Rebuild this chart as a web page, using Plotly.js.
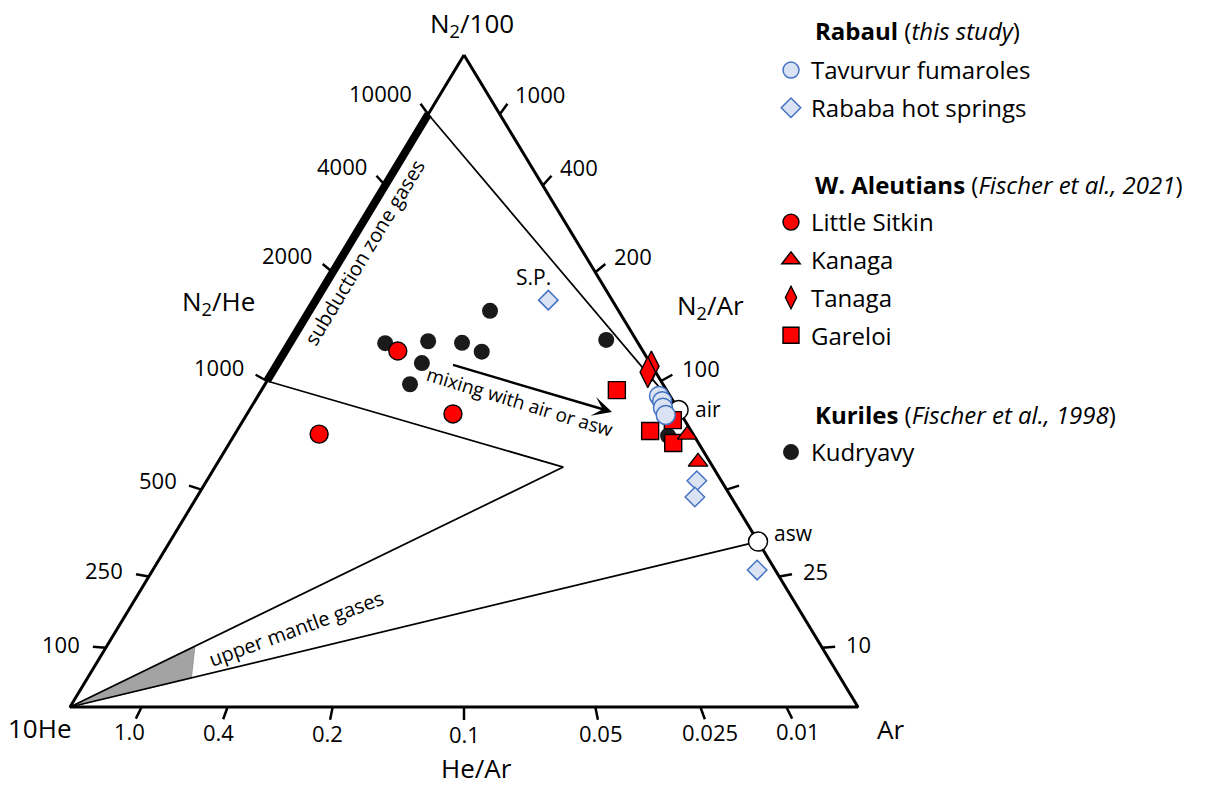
<!DOCTYPE html>
<html>
<head>
<meta charset="utf-8">
<script src="https://cdn.plot.ly/plotly-3.0.1.min.js"></script>
<style>html,body{margin:0;padding:0;background:#fff;}</style>
</head>
<body>
<div id="chart" style="width:1206px;height:785px;"></div>
<script>
// ================= DATA (ternary %: N2/100, 10He, Ar) =================
const tavurvurN2 = [47.7, 46.9, 45.9, 44.8];
const tavurvurHe = [1.4, 1.4, 1.8, 2.0];
const tavurvurAr = [50.9, 51.7, 52.3, 53.2];

const rababaN2 = [62.4, 34.7, 32.2, 21.0];
const rababaHe = [8.1, 3.1, 4.6, 2.3];
const rababaAr = [29.5, 62.2, 63.2, 76.7];

const littleSitkinN2 = [54.6, 44.9, 41.9];
const littleSitkinHe = [31.1, 28.9, 47.5];
const littleSitkinAr = [14.3, 26.1, 10.7];

const kanagaN2 = [41.7, 37.6];
const kanagaHe = [0.8, 1.5];
const kanagaAr = [57.4, 60.9];

const tanagaN2 = [52.3, 51.4];
const tanagaHe = [0.1, 1.0];
const tanagaAr = [47.7, 47.7];

const gareloiN2 = [48.6, 42.3, 44.0, 40.5];
const gareloiHe = [6.3, 5.2, 1.5, 3.2];
const gareloiAr = [45.1, 52.4, 54.5, 56.3];

const kudryavyN2 = [55.8, 56.1, 55.8, 54.5, 52.8, 49.5, 60.7, 56.3, 41.6];
const kudryavyHe = [32.1, 26.5, 22.3, 20.5, 29.0, 32.1, 16.3, 3.8, 3.3];
const kudryavyAr = [12.1, 17.4, 21.8, 25.0, 18.3, 18.4, 22.9, 39.9, 55.1];

// reference end-members (N2/Ar ratios)
const refNames = ['air', 'asw'];
const refN2Ar = [83.6, 34];

// field boundaries
const subductionN2He = [1000, 10000];          // thick bar on the N2/He edge
const vTip = [36.8, 19.0, 44.2];               // apex of the subduction field outline
const mantleGrey = [[9.3, 79.5, 11.2], [4.4, 82.4, 13.2]];

// tick values and labels
const n2heTicks = [10000, 4000, 2000, 1000, 500, 250, 100];
const n2heLabels = ['10000', '4000', '2000', '1000', '500', '250', '100'];
const n2arTicks = [1000, 400, 200, 100, 50, 25, 10];
const n2arLabels = ['1000', '400', '200', '100', '', '25', '10'];
const hearTicks = [1.0, 0.4, 0.2, 0.1, 0.05, 0.025, 0.01];
const hearLabels = ['1.0', '0.4', '0.2', '0.1', '0.05', '0.025', '0.01'];

// legend group headings
const groupTitles = [
  '<b>Rabaul</b> (<i>this study</i>)',
  '<b>W. Aleutians</b> (<i>Fischer et al., 2021</i>)',
  '<b>Kuriles</b> (<i>Fischer et al., 1998</i>)'
];

// ================= GEOMETRY =================
const FONT = '"Open Sans", "Noto Sans", sans-serif';
const W = 1206, H = 785;
const BASE_L = 70, BASE_R = 858, BASE_Y = 707, APEX_Y = 55;
const SX = BASE_R - BASE_L, SY = BASE_Y - APEX_Y;

function xy(p) { const s = p[0] + p[1] + p[2]; return [(p[2] + p[0] / 2) / s, p[0] / s]; }
function toPx(q) { return [BASE_L + SX * q[0], BASE_Y - SY * q[1]]; }
function fromPx(p) { return [(p[0] - BASE_L) / SX, (BASE_Y - p[1]) / SY]; }
const VTOP = [1, 0, 0], VHE = [0, 1, 0], VAR = [0, 0, 1];
const onLeft = r => [r / 1000, 1, 0];     // N2/He = 1000*n/h
const onRight = r => [r / 100, 0, 1];     // N2/Ar = 100*n/a
const onBottom = r => [0, 10 * r, 1];     // He/Ar = h/(10a)

function seriesXY(N, He, Ar) {
  const x = [], y = [];
  N.forEach((n, i) => { const q = xy([n, He[i], Ar[i]]); x.push(q[0]); y.push(q[1]); });
  return { x, y };
}
function pathXY(pts) {
  const x = [], y = [];
  pts.forEach(p => { const q = xy(p); x.push(q[0]); y.push(q[1]); });
  return { x, y };
}

const annotations = [];
const tickX = [], tickY = [];
function addTicks(values, labels, pointFn, opp, labelDist, anchor, size) {
  const V = toPx(xy(opp));
  values.forEach((v, i) => {
    const E = toPx(xy(pointFn(v)));
    let dx = E[0] - V[0], dy = E[1] - V[1];
    const L = Math.hypot(dx, dy); dx /= L; dy /= L;
    const a = fromPx(E), b = fromPx([E[0] + dx * 13, E[1] + dy * 13]);
    tickX.push(a[0], b[0], null); tickY.push(a[1], b[1], null);
    if (labels[i]) {
      const c = fromPx([E[0] + dx * labelDist, E[1] + dy * labelDist]);
      annotations.push({ x: c[0], y: c[1], xref: 'x', yref: 'y', text: labels[i], showarrow: false,
        xanchor: anchor, yanchor: 'middle', yshift: anchor === 'center' ? 0 : 2,
        font: { size: size, family: FONT, color: '#000' } });
    }
  });
}
addTicks(n2heTicks, n2heLabels, onLeft, VAR, 24, 'right', 22);
addTicks(n2arTicks, n2arLabels, onRight, VHE, 22, 'left', 22);
addTicks(hearTicks, hearLabels, onBottom, VTOP, 27, 'center', 22);

function textAt(q, text, size, opts) {
  annotations.push(Object.assign({ x: q[0], y: q[1], xref: 'x', yref: 'y', text: text, showarrow: false,
    font: { size: size, family: FONT, color: '#000' } }, opts || {}));
}
// axis titles
textAt(xy(VTOP), 'N<sub>2</sub>/100', 26, { xanchor: 'center', yanchor: 'middle', xshift: 8, yshift: 31 });
textAt(xy(VHE), '10He', 26, { xanchor: 'right', yanchor: 'middle', xshift: 4, yshift: -21 });
textAt(xy(VAR), 'Ar', 26, { xanchor: 'left', yanchor: 'middle', xshift: 17, yshift: -22 });
textAt(xy(onBottom(0.1)), 'He/Ar', 26, { xanchor: 'center', yanchor: 'middle', xshift: 12, yshift: -61 });
textAt(xy(onLeft(1000)), 'N<sub>2</sub>/He', 26, { xanchor: 'center', yanchor: 'middle', xshift: -49, yshift: 79 });
textAt(xy(onRight(100)), 'N<sub>2</sub>/Ar', 26, { xanchor: 'center', yanchor: 'middle', xshift: 49, yshift: 75 });

// field labels
textAt(fromPx([364, 252]), 'subduction zone gases', 20, { textangle: -58.9 });
textAt(fromPx([296, 628]), 'upper mantle gases', 20, { textangle: -20 });
textAt(fromPx([520, 402]), 'mixing with air or asw', 19, { textangle: 17 });

// mixing arrow
const aS = fromPx([450, 364]), aE = fromPx([612, 412]);
annotations.push({ x: aE[0], y: aE[1], ax: aS[0], ay: aS[1], xref: 'x', yref: 'y', axref: 'x', ayref: 'y',
  text: ' ', showarrow: true, arrowhead: 3, arrowsize: 1.3, arrowwidth: 2.5, arrowcolor: '#000' });

// ref point labels
const refPts = refN2Ar.map(r => xy(onRight(r)));
textAt(refPts[0], refNames[0], 21, { xanchor: 'left', yanchor: 'middle', xshift: 14, yshift: 1 });
textAt(refPts[1], refNames[1], 21, { xanchor: 'left', yanchor: 'middle', xshift: 14, yshift: 9 });
const spXY = xy([rababaN2[0], rababaHe[0], rababaAr[0]]);
textAt(spXY, 'S.P.', 21, { xanchor: 'center', yanchor: 'middle', xshift: -15, yshift: 23 });

// legend group headings (paper coords)
const headY = [31, 185, 414];
groupTitles.forEach((t, i) => {
  annotations.push({ x: 813 / W, y: 1 - headY[i] / H, xref: 'paper', yref: 'paper', text: t, showarrow: false,
    xanchor: 'left', yanchor: 'middle', font: { size: 24, family: FONT, color: '#000' } });
});

// ================= TRACES =================
const traces = [];
const noLeg = { showlegend: false, hoverinfo: 'skip' };
const greyP = pathXY([VHE, mantleGrey[0], mantleGrey[1], VHE]);
traces.push(Object.assign({ x: greyP.x, y: greyP.y, mode: 'lines', fill: 'toself', fillcolor: '#a3a3a3',
  line: { color: '#8a8a8a', width: 0.8 } }, noLeg));
const thinLine = { color: '#000', width: 1.7 };
const l1 = pathXY([onLeft(subductionN2He[1]), onRight(refN2Ar[0])]);
traces.push(Object.assign({ x: l1.x, y: l1.y, mode: 'lines', line: thinLine }, noLeg));
const l2 = pathXY([onLeft(subductionN2He[0]), vTip, VHE]);
traces.push(Object.assign({ x: l2.x, y: l2.y, mode: 'lines', line: thinLine }, noLeg));
const l3 = pathXY([VHE, onRight(refN2Ar[1])]);
traces.push(Object.assign({ x: l3.x, y: l3.y, mode: 'lines', line: thinLine }, noLeg));
const bar = pathXY([onLeft(subductionN2He[0]), onLeft(subductionN2He[1])]);
traces.push(Object.assign({ x: bar.x, y: bar.y, mode: 'lines', line: { color: '#000', width: 8 } }, noLeg));
const tri = pathXY([VTOP, VHE, VAR, VTOP]);
traces.push(Object.assign({ x: tri.x, y: tri.y, mode: 'lines', line: { color: '#000', width: 3 } }, noLeg));
traces.push(Object.assign({ x: tickX, y: tickY, mode: 'lines', connectgaps: false, line: { color: '#000', width: 2.5 } }, noLeg));
traces.push(Object.assign({ x: refPts.map(p => p[0]), y: refPts.map(p => p[1]), mode: 'markers',
  marker: { symbol: 'circle', size: 19, color: '#fff', line: { color: '#000', width: 1.5 } } }, noLeg));

function series(name, N, He, Ar, marker, legend, rank) {
  const s = seriesXY(N, He, Ar);
  return { x: s.x, y: s.y, name: name, mode: 'markers', marker: marker, legend: legend,
    legendrank: rank, legendgroup: 'g' + rank, hoverinfo: 'name' };
}
const redLine = { color: '#000', width: 1.4 };
traces.push(series('Kudryavy', kudryavyN2, kudryavyHe, kudryavyAr,
  { symbol: 'circle', size: 16, color: '#1a1a1a', line: { width: 0 } }, 'legend3', 7));
traces.push(series('Gareloi', gareloiN2, gareloiHe, gareloiAr,
  { symbol: 'square', size: 17, color: '#ff0000', line: redLine }, 'legend2', 6));
traces.push(series('Kanaga', kanagaN2, kanagaHe, kanagaAr,
  { symbol: 'triangle-up', size: 17, color: '#ff0000', line: redLine }, 'legend2', 4));
traces.push(series('Tanaga', tanagaN2, tanagaHe, tanagaAr,
  { symbol: 'diamond-tall', size: 22, color: '#ff0000', line: redLine }, 'legend2', 5));
traces.push(series('Little Sitkin', littleSitkinN2, littleSitkinHe, littleSitkinAr,
  { symbol: 'circle', size: 18, color: '#ff0000', line: redLine }, 'legend2', 3));
traces.push(series('Tavurvur fumaroles', tavurvurN2, tavurvurHe, tavurvurAr,
  { symbol: 'circle', size: 19, color: '#dae3f3', line: { color: '#4472c4', width: 1.5 } }, 'legend', 1));
traces.push(series('Rababa hot springs', rababaN2, rababaHe, rababaAr,
  { symbol: 'diamond', size: 15, color: '#dae3f3', line: { color: '#4472c4', width: 1.5 } }, 'legend', 2));

// ================= LAYOUT =================
function legendBox(topPx) {
  return { x: 771 / W, y: 1 - topPx / H, xanchor: 'left', yanchor: 'top', bgcolor: 'rgba(0,0,0,0)',
    borderwidth: 0, tracegroupgap: 3.5, traceorder: 'grouped',
    font: { size: 24, family: FONT, color: '#000' } };
}
const layout = {
  width: W, height: H, autosize: false,
  margin: { l: 0, r: 0, t: 0, b: 0, pad: 0 },
  paper_bgcolor: '#fff', plot_bgcolor: '#fff',
  font: { family: FONT, color: '#000' },
  xaxis: { range: [-BASE_L / SX, (W - BASE_L) / SX], visible: false, fixedrange: true },
  yaxis: { range: [(BASE_Y - H) / SY, BASE_Y / SY], visible: false, fixedrange: true },
  showlegend: true,
  legend: legendBox(48),
  legend2: legendBox(200),
  legend3: legendBox(430),
  annotations: annotations
};
Plotly.newPlot('chart', traces, layout, { displayModeBar: false });
</script>
</body>
</html>
